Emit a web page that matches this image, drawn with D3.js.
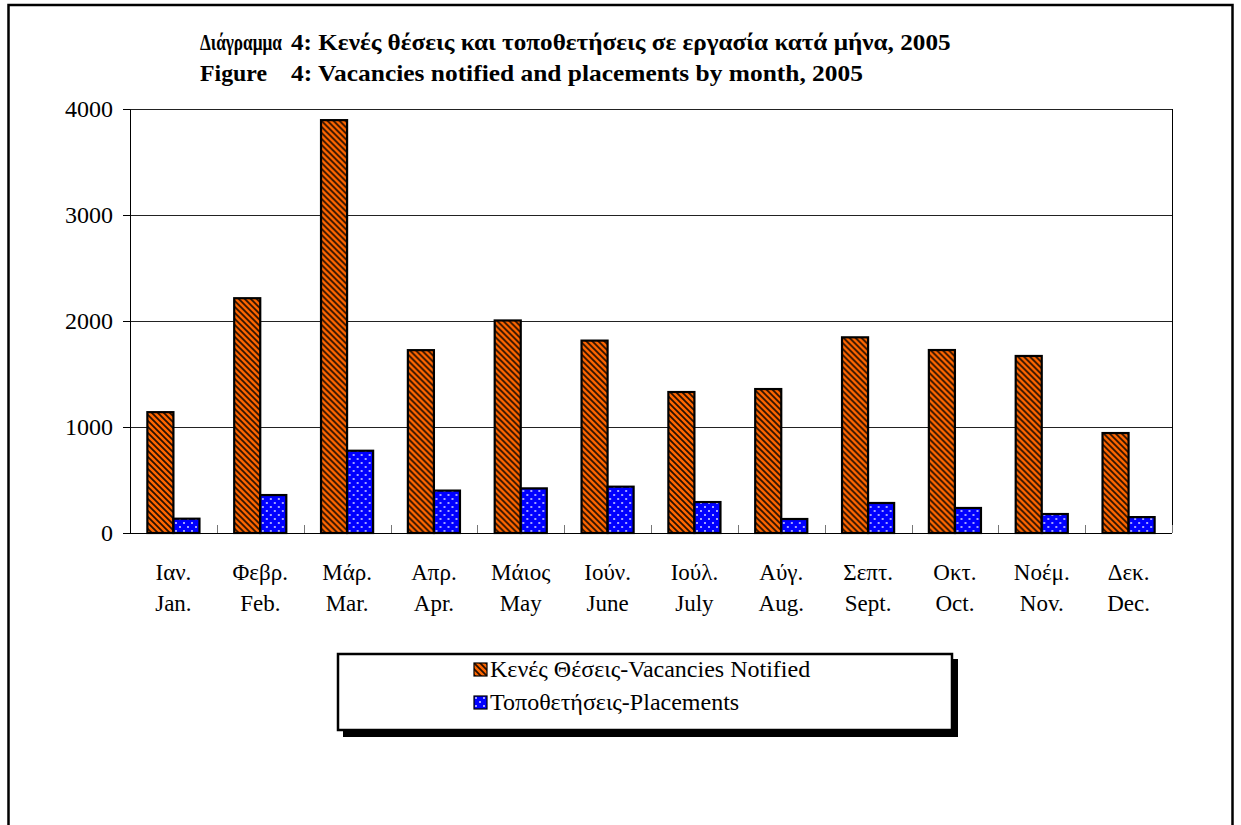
<!DOCTYPE html>
<html lang="el">
<head>
<meta charset="UTF-8">
<title>Vacancies notified and placements by month, 2005</title>
<script src="https://cdn.jsdelivr.net/npm/d3@7/dist/d3.min.js"></script>
<style>
    body { margin: 0; background: #fff; }
</style>
</head>
<body>
<div id="chart"></div>
<script>
// data
var monthsGr = ["Ιαν.", "Φεβρ.", "Μάρ.", "Απρ.", "Μάιος", "Ιούν.", "Ιούλ.", "Αύγ.", "Σεπτ.", "Οκτ.", "Νοέμ.", "Δεκ."];
var monthsEn = ["Jan.", "Feb.", "Mar.", "Apr.", "May", "June", "July", "Aug.", "Sept.", "Oct.", "Nov.", "Dec."];
var vacancies = [1140, 2215, 3895, 1725, 2005, 1815, 1330, 1358, 1846, 1726, 1670, 943];
var placements = [135, 358, 776, 400, 421, 437, 292, 132, 283, 236, 179, 150];
var seriesNames = ["Κενές Θέσεις-Vacancies Notified", "Τοποθετήσεις-Placements"];
var yTicks = [0, 1000, 2000, 3000, 4000];
var titleParts = [
    ["Διάγραμμα", "4: Κενές θέσεις και τοποθετήσεις σε εργασία κατά μήνα, 2005"],
    ["Figure", "4: Vacancies notified and placements by month, 2005"]
];

var FONT = "'Liberation Serif', 'Times New Roman', serif";

// set the dimensions and margins of the graph
var W = 1241, H = 825;
var margin = {top: 109, left: 130, right: 69, bottom: 292};
var width = W - margin.left - margin.right,
    height = H - margin.top - margin.bottom;

var svg = d3.select("#chart").append("svg")
    .attr("width", W)
    .attr("height", H)
    .style("font-family", FONT);

// patterns for the two series
var defs = svg.append("defs");
var hatch = defs.append("pattern")
    .attr("id", "hatch")
    .attr("patternUnits", "userSpaceOnUse")
    .attr("width", 6).attr("height", 6);
hatch.append("rect").attr("width", 6).attr("height", 6).attr("fill", "#ff6600");
hatch.append("path")
    .attr("d", "M-1,-1 L7,7 M-4,2 L2,8 M4,-2 L8,2")
    .attr("stroke", "#2a1000").attr("stroke-width", 1.8);

var dots = defs.append("pattern")
    .attr("id", "dots")
    .attr("patternUnits", "userSpaceOnUse")
    .attr("width", 8).attr("height", 8);
dots.append("rect").attr("width", 8).attr("height", 8).attr("fill", "#0000ff");
dots.append("circle").attr("cx", 2).attr("cy", 2).attr("r", 1).attr("fill", "#d8d8ff");
dots.append("circle").attr("cx", 6).attr("cy", 6).attr("r", 1).attr("fill", "#d8d8ff");

var fills = ["url(#hatch)", "url(#dots)"];

// outer frame
svg.append("rect")
    .attr("x", 8.5).attr("y", 5)
    .attr("width", 1224).attr("height", 900)
    .attr("fill", "none")
    .attr("stroke", "#000").attr("stroke-width", 2.5);

// title: condensed bold, each piece squeezed to the width seen in the picture
var titleX = [200, 291];
var titleW = [[82, 660], [67, 572]];
var titleY = [50, 81];
titleParts.forEach(function (line, r) {
    line.forEach(function (s, c) {
        var tg = svg.append("g")
            .attr("transform", "translate(" + titleX[c] + "," + titleY[r] + ")");
        var t = tg.append("text")
            .attr("font-weight", "bold").attr("font-size", 24)
            .text(s);
        var k = titleW[r][c] / t.node().getComputedTextLength();
        t.attr("transform", "scale(" + k + ",1)");
    });
});

var g = svg.append("g")
    .attr("transform", "translate(" + margin.left + "," + margin.top + ")");

// scales
var x0 = d3.scaleBand().domain(d3.range(12)).range([0, width]).padding(0);
var x1 = d3.scaleBand().domain([0, 1])
    .range([x0.bandwidth() * 0.2, x0.bandwidth() * 0.8]).padding(0);
var y = d3.scaleLinear().domain([0, 4000]).range([height, 0]);

// gridlines
g.selectAll(".grid").data(yTicks.slice(1))
    .enter().append("line")
    .attr("x1", 0).attr("x2", width)
    .attr("y1", function (d) { return Math.round(y(d)) + 0.5; })
    .attr("y2", function (d) { return Math.round(y(d)) + 0.5; })
    .attr("stroke", "#222").attr("stroke-width", 1);

// right border of plot area
g.append("line")
    .attr("x1", width + 0.5).attr("x2", width + 0.5)
    .attr("y1", 0).attr("y2", height)
    .attr("stroke", "#000");

// bars
var months = d3.range(12).map(function (i) {
    return {i: i, values: [vacancies[i], placements[i]]};
});
var groups = g.selectAll(".month").data(months)
    .enter().append("g")
    .attr("transform", function (d) { return "translate(" + x0(d.i) + ",0)"; });
groups.selectAll("rect")
    .data(function (d) { return d.values.map(function (v, k) { return {k: k, v: v}; }); })
    .enter().append("rect")
    .attr("x", function (d) { return x1(d.k); })
    .attr("width", x1.bandwidth())
    .attr("y", function (d) { return y(d.v); })
    .attr("height", function (d) { return height - y(d.v); })
    .attr("fill", function (d) { return fills[d.k]; })
    .attr("stroke", "#000").attr("stroke-width", 2.2);

// category ticks (pointing up into plot)
g.selectAll(".ctick").data(d3.range(1, 13))
    .enter().append("line")
    .attr("x1", function (d) { return Math.round(d * x0.bandwidth()) + 0.5; })
    .attr("x2", function (d) { return Math.round(d * x0.bandwidth()) + 0.5; })
    .attr("y1", height - 8).attr("y2", height)
    .attr("stroke", "#777");

// x axis line
g.append("line")
    .attr("x1", 0).attr("x2", width)
    .attr("y1", height + 0.5).attr("y2", height + 0.5)
    .attr("stroke", "#000");

// month labels, two lines
var labels = g.selectAll(".mlabel").data(d3.range(12))
    .enter().append("text")
    .attr("text-anchor", "middle")
    .attr("font-size", 23);
labels.append("tspan")
    .attr("x", function (d) { return x0(d) + x0.bandwidth() / 2; })
    .attr("y", height + 47)
    .text(function (d) { return monthsGr[d]; });
labels.append("tspan")
    .attr("x", function (d) { return x0(d) + x0.bandwidth() / 2; })
    .attr("y", height + 78)
    .text(function (d) { return monthsEn[d]; });

// Y axis
var yAxis = g.append("g")
    .call(d3.axisLeft(y).tickValues(yTicks).tickFormat(d3.format("d"))
        .tickSize(7).tickSizeOuter(0).tickPadding(10));
yAxis.select(".domain").attr("stroke", "#000");
yAxis.selectAll(".tick line").attr("stroke", "#000");
yAxis.selectAll(".tick text")
    .attr("font-size", 24)
    .style("font-family", FONT)
    .attr("fill", "#000");

// legend
var lg = svg.append("g");
lg.append("rect")
    .attr("x", 343).attr("y", 659).attr("width", 615).attr("height", 78)
    .attr("fill", "#000");
lg.append("rect")
    .attr("x", 338).attr("y", 654).attr("width", 614).attr("height", 76)
    .attr("fill", "#fff").attr("stroke", "#000").attr("stroke-width", 2.5);
var items = lg.selectAll(".item").data(seriesNames)
    .enter().append("g")
    .attr("transform", function (d, i) { return "translate(474," + (663 + i * 33) + ")"; });
items.append("rect")
    .attr("width", 13).attr("height", 13)
    .attr("fill", function (d, i) { return fills[i]; })
    .attr("stroke", "#000").attr("stroke-width", 1.2);
items.append("text")
    .attr("x", 16).attr("y", 14)
    .attr("font-size", 24)
    .text(function (d) { return d; });
</script>
</body>
</html>
